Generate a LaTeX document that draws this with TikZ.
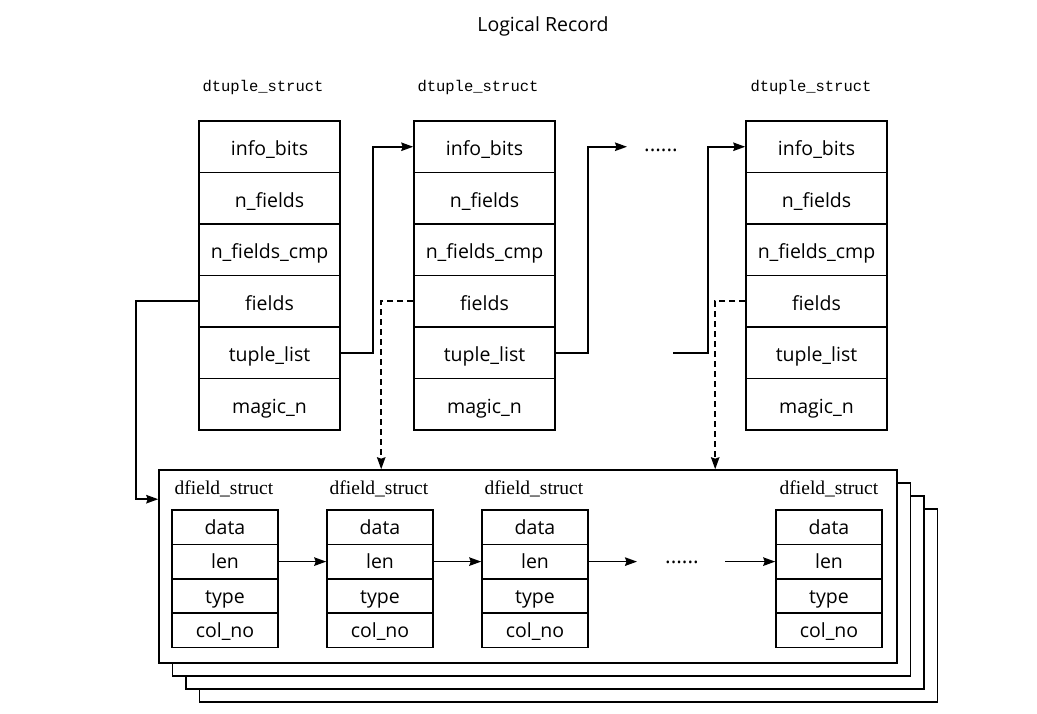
\documentclass[tikz,border=0pt]{standalone}
\usepackage{fontspec}
\setmainfont{Open Sans}
\newfontfamily\monofnt{Liberation Mono}
\newfontfamily\seriffnt{Liberation Serif}
\usetikzlibrary{arrows.meta}
\begin{document}
\begin{tikzpicture}[x=1pt, y=-1pt, >={Stealth[length=12pt, width=8.5pt, inset=1.5pt]}, line width=1.6pt,
  tuplerow/.style={draw, minimum width=141pt, minimum height=51.5pt, inner sep=0pt, text height=18pt, text depth=0pt, font=\fontsize{19.5}{22}\selectfont},
  fieldrow/.style={draw, minimum width=106pt, minimum height=34.4pt, inner sep=0pt, text height=16pt, text depth=2pt, font=\fontsize{19.5}{22}\selectfont},
  tuplename/.style={font=\monofnt\fontsize{15.5}{18}\selectfont},
  fieldname/.style={font=\seriffnt\fontsize{19.5}{22}\selectfont},
  stack/.style={draw, fill=white, minimum width=738pt, minimum height=193pt, inner sep=0pt},
  dots/.style={font=\fontsize{21}{24}\selectfont, inner sep=0pt},
  ptr/.style={dash pattern=on 6pt off 4pt}]
\useasboundingbox (0,0) rectangle (1037,713);
% Titulo
\node (title) at (543,26) {\fontsize{19.5}{22}\selectfont Logical Record};
% ---
% dtuple 1
% ---
\node [tuplename] (t1-name) at (263,87) {dtuple\_struct};
\node [tuplerow] (t1-ib) at (269.5,146.75) {info\_bits};
\node [tuplerow] (t1-nf) at (269.5,198.25) {n\_fields};
\node [tuplerow] (t1-nc) at (269.5,249.75) {n\_fields\_cmp};
\node [tuplerow] (t1-f)  at (269.5,301.25) {fields};
\node [tuplerow] (t1-tl) at (269.5,352.75) {tuple\_list};
\node [tuplerow] (t1-mn) at (269.5,404.25) {magic\_n};
% ---
% dtuple 2
% ---
\node [tuplename] (t2-name) at (478,87) {dtuple\_struct};
\node [tuplerow] (t2-ib) at (484.5,146.75) {info\_bits};
\node [tuplerow] (t2-nf) at (484.5,198.25) {n\_fields};
\node [tuplerow] (t2-nc) at (484.5,249.75) {n\_fields\_cmp};
\node [tuplerow] (t2-f)  at (484.5,301.25) {fields};
\node [tuplerow] (t2-tl) at (484.5,352.75) {tuple\_list};
\node [tuplerow] (t2-mn) at (484.5,404.25) {magic\_n};
% ---
% dtuple 3
% ---
\node [tuplename] (t3-name) at (811,87) {dtuple\_struct};
\node [tuplerow] (t3-ib) at (816.5,146.75) {info\_bits};
\node [tuplerow] (t3-nf) at (816.5,198.25) {n\_fields};
\node [tuplerow] (t3-nc) at (816.5,249.75) {n\_fields\_cmp};
\node [tuplerow] (t3-f)  at (816.5,301.25) {fields};
\node [tuplerow] (t3-tl) at (816.5,352.75) {tuple\_list};
\node [tuplerow] (t3-mn) at (816.5,404.25) {magic\_n};
% puntos
\node [dots] (tdots) at (661,150) {......};
\coordinate (tdotsin) at (627,146.75);
\coordinate (tdotsout) at (673,352.75);
% ---
% dfield (pila)
% ---
\node [stack] (layer3) at (568.5,605.5) {};
\node [stack] (layer2) at (555,592.5) {};
\node [stack] (layer1) at (541.5,579.5) {};
\node [stack] (frame)  at (528,566.5) {};
% dfield 1
\node [fieldname] (f1-name) at (224,489) {dfield\_struct};
\node [fieldrow] (f1-d) at (225,527.2) {data};
\node [fieldrow] (f1-l) at (225,561.6) {len};
\node [fieldrow] (f1-t) at (225,596) {type};
\node [fieldrow] (f1-c) at (225,630.4) {col\_no};
% dfield 2
\node [fieldname] (f2-name) at (379,489) {dfield\_struct};
\node [fieldrow] (f2-d) at (380,527.2) {data};
\node [fieldrow] (f2-l) at (380,561.6) {len};
\node [fieldrow] (f2-t) at (380,596) {type};
\node [fieldrow] (f2-c) at (380,630.4) {col\_no};
% dfield 3
\node [fieldname] (f3-name) at (534,489) {dfield\_struct};
\node [fieldrow] (f3-d) at (535,527.2) {data};
\node [fieldrow] (f3-l) at (535,561.6) {len};
\node [fieldrow] (f3-t) at (535,596) {type};
\node [fieldrow] (f3-c) at (535,630.4) {col\_no};
% dfield 4
\node [fieldname] (f4-name) at (829,489) {dfield\_struct};
\node [fieldrow] (f4-d) at (829,527.2) {data};
\node [fieldrow] (f4-l) at (829,561.6) {len};
\node [fieldrow] (f4-t) at (829,596) {type};
\node [fieldrow] (f4-c) at (829,630.4) {col\_no};
% puntos
\node [dots] (fdots) at (682,562) {......};
\coordinate (fdin) at (637,561.6);
\coordinate (fdout) at (725,561.6);
% Ejes
% ---
% tuple_list
% ---
\draw [->] (t1-tl.east) -- ++(32,0) |- (t2-ib.west);
\draw [->] (t2-tl.east) -- ++(32,0) |- (tdotsin);
\draw [->] (tdotsout) -- ++(35,0) |- (t3-ib.west);
% ---
% fields
% ---
\draw [->] (t1-f.west) -- ++(-62,0) |- ([yshift=-30pt]frame.north west);
\draw [->, ptr] (t2-f.west) -| ([xshift=223pt]frame.north west);
\draw [->, ptr] (t3-f.west) -| ([xshift=557pt]frame.north west);
% ---
% len
% ---
\draw [->] (f1-l.east) -- (f2-l.west);
\draw [->] (f2-l.east) -- (f3-l.west);
\draw [->] (f3-l.east) -- (fdin);
\draw [->] (fdout) -- (f4-l.west);
\end{tikzpicture}
\end{document}
